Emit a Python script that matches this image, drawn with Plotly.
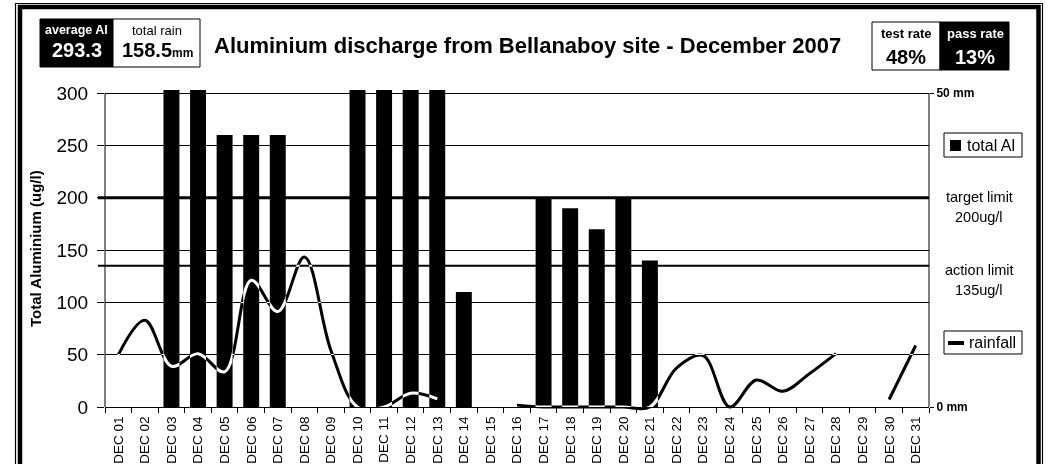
import plotly.graph_objects as go

# ---------------- data ----------------
days = ["DEC 01", "DEC 02", "DEC 03", "DEC 04", "DEC 05", "DEC 06", "DEC 07", "DEC 08",
        "DEC 09", "DEC 10", "DEC 11", "DEC 12", "DEC 13", "DEC 14", "DEC 15", "DEC 16",
        "DEC 17", "DEC 18", "DEC 19", "DEC 20", "DEC 21", "DEC 22", "DEC 23", "DEC 24",
        "DEC 25", "DEC 26", "DEC 27", "DEC 28", "DEC 29", "DEC 30", "DEC 31"]

total_al = [None, None, 435, 435, 260, 260, 260, None, None, 435, 435, 435, 435, 110, None, None,
            200, 190, 170, 200, 140, None, None, None, None, None, None, None, None, None, None]

rainfall_mm = [8.3, 13.8, 6.5, 8.5, 5.6, 20.2, 15.2, 23.9, 9.0, 0, 0, 2.2, 1.3, None, None, 0.3,
               0, 0, 0, 0, 0, 6.2, 8.2, 0, 4.3, 2.5, 5.3, 8.5, None, 1.2, 9.8]

al_ticks = [0, 50, 100, 150, 200, 250, 300]
rain_ticks = [0, 50]
rain_tick_labels = ["0 mm", "50 mm"]

target_limit = 200
action_limit = 135
average_al = "293.3"
total_rain = "158.5"
test_rate = "48%"
pass_rate = "13%"
title_text = "Aluminium discharge from Bellanaboy site - December 2007"

# ---------------- layout helpers ----------------
W, H = 1049, 464
L, R, T, B = 105, 929, 90, 407
FONT = "Liberation Sans, Arial, sans-serif"


def xp(px):
    return (px - L) / (R - L)


def yp(py):
    return (B - py) / (B - T)


fig = go.Figure()
fig.add_trace(go.Bar(x=days, y=total_al, marker=dict(color="black", line=dict(width=0)),
                     name="total Al", yaxis="y"))
# white line + "difference" blending (set below) -> black on white, white on black bars
fig.add_trace(go.Scatter(x=days, y=rainfall_mm, mode="lines", yaxis="y2", name="rainfall",
                         line=dict(color="white", width=3, shape="spline", smoothing=1),
                         connectgaps=False))

shapes = []
# frame
shapes.append(dict(type="rect", xref="paper", yref="paper", x0=xp(15.5), x1=xp(1042.5),
                   y0=yp(3.5), y1=yp(490), line=dict(color="black", width=1.2)))
shapes.append(dict(type="rect", xref="paper", yref="paper", x0=xp(20), x1=xp(1038.5),
                   y0=yp(7), y1=yp(490), line=dict(color="black", width=4.5)))
# axis lines
shapes.append(dict(type="line", xref="paper", yref="y", x0=0, x1=0, y0=0, y1=300,
                   line=dict(color="black", width=1)))
shapes.append(dict(type="line", xref="paper", yref="y", x0=1, x1=1, y0=0, y1=300,
                   line=dict(color="black", width=1)))
# limit lines
shapes.append(dict(type="line", xref="paper", yref="y", x0=xp(98), x1=1, y0=target_limit,
                   y1=target_limit, line=dict(color="black", width=3), layer="below"))
shapes.append(dict(type="line", xref="paper", yref="y", x0=xp(98), x1=1, y0=action_limit,
                   y1=action_limit, line=dict(color="black", width=2), layer="below"))
# header boxes
shapes.append(dict(type="rect", xref="paper", yref="paper", x0=xp(40), x1=xp(113), y0=yp(19),
                   y1=yp(67), fillcolor="black", line=dict(color="black", width=1)))
shapes.append(dict(type="rect", xref="paper", yref="paper", x0=xp(113), x1=xp(200), y0=yp(19),
                   y1=yp(67), fillcolor="white", line=dict(color="black", width=1)))
shapes.append(dict(type="rect", xref="paper", yref="paper", x0=xp(872), x1=xp(940), y0=yp(22),
                   y1=yp(70), fillcolor="white", line=dict(color="black", width=1)))
shapes.append(dict(type="rect", xref="paper", yref="paper", x0=xp(940), x1=xp(1009), y0=yp(22),
                   y1=yp(70), fillcolor="black", line=dict(color="black", width=1)))
# legend boxes
shapes.append(dict(type="rect", xref="paper", yref="paper", x0=xp(944), x1=xp(1022), y0=yp(133),
                   y1=yp(157), fillcolor="white", line=dict(color="black", width=1)))
shapes.append(dict(type="rect", xref="paper", yref="paper", x0=xp(950), x1=xp(961), y0=yp(140),
                   y1=yp(151), fillcolor="black", line=dict(color="black", width=0)))
shapes.append(dict(type="rect", xref="paper", yref="paper", x0=xp(944), x1=xp(1022), y0=yp(331),
                   y1=yp(354), fillcolor="white", line=dict(color="black", width=1)))
shapes.append(dict(type="line", xref="paper", yref="paper", x0=xp(948), x1=xp(964), y0=yp(343),
                   y1=yp(343), line=dict(color="black", width=4)))

ann = []


def text(px, py, s, size, color="black", bold=False, anchor="center", angle=0):
    ann.append(dict(xref="paper", yref="paper", x=xp(px), y=yp(py), text=s, showarrow=False,
                    xanchor=anchor, yanchor="middle", textangle=angle,
                    font=dict(family=FONT, size=size, color=color,
                              weight="bold" if bold else "normal")))


text(76.5, 30, "average Al", 12.5, "white", True)
text(76.5, 50, average_al, 20, "white", True)
text(156.5, 30, "total rain", 13, "black", False)
text(157, 50, total_rain + "<span style='font-size:12px'>mm</span>", 20, "black", True)
text(906, 33, "test rate", 13, "black", True)
text(906, 57, test_rate, 20, "black", True)
text(975, 33, "pass rate", 13, "white", True)
text(975, 57, pass_rate, 20, "white", True)
text(527, 46, title_text, 22, "black", True)
text(35, 249, "Total Aluminium (ug/l)", 15, "black", True, angle=-90)
text(965, 145.5, "total Al", 16, anchor="left")
text(967, 342.5, "rainfall", 16, anchor="left")
text(979, 197, "target limit", 14.5)
text(979, 217, f"{target_limit}ug/l", 14.5)
text(979, 270, "action limit", 14.5)
text(979, 290, f"{action_limit}ug/l", 14.5)

fig.update_layout(
    width=W, height=H,
    margin=dict(l=L, r=W - R, t=T, b=H - B, pad=0, autoexpand=False),
    paper_bgcolor="white", plot_bgcolor="white",
    showlegend=False, bargap=0.4,
    font=dict(family=FONT, color="black"),
    shapes=shapes, annotations=ann,
    xaxis=dict(type="category", showline=True, linecolor="black", linewidth=1,
               ticks="outside", ticklen=5, tickcolor="black", tickson="boundaries",
               tickangle=-90, tickfont=dict(size=13.5, family=FONT), showgrid=False,
               zeroline=False, fixedrange=True, ticklabelstandoff=3, automargin=False),
    yaxis=dict(range=[0, 303], tickvals=al_ticks, showgrid=True, gridcolor="black",
               gridwidth=1, ticks="outside", ticklen=7, tickcolor="black",
               tickfont=dict(size=19, family=FONT), showline=False, zeroline=False,
               ticklabelstandoff=5, automargin=False),
    yaxis2=dict(range=[0, 50.5], overlaying="y", side="right", tickvals=rain_ticks,
                ticktext=rain_tick_labels, showgrid=False, zeroline=False, showline=False,
                ticks="outside", ticklen=4, tickcolor="black", automargin=False,
                tickfont=dict(size=12, family=FONT, weight="bold")),
)

# remove the page margin, and move the plot-area clip from the line's group onto
# the line itself so the line can blend ("difference") with bars and background
post = r"""
document.body.style.margin='0';
document.body.style.overflow='hidden';
document.querySelectorAll('.scatterlayer .js-line').forEach(function(p){
  var cp=null;
  for(var g=p.parentNode; g && g.nodeName!=='svg'; g=g.parentNode){
    if(g.getAttribute('clip-path')){cp=g.getAttribute('clip-path'); g.removeAttribute('clip-path');}
    if(g.style && g.style.opacity){g.style.opacity='';}
  }
  if(cp){p.setAttribute('clip-path',cp);}
  p.style.mixBlendMode='difference';
});
"""
fig.write_html("out.html", post_script=post, config={"displayModeBar": False})
